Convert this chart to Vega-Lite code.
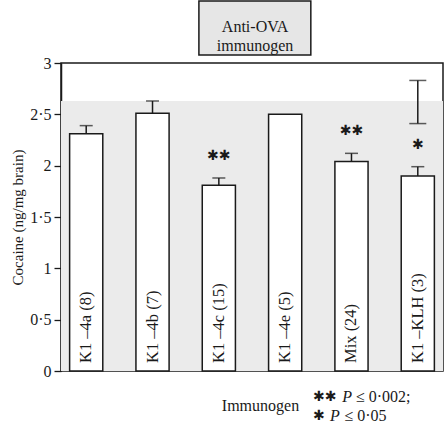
{
  "$schema": "https://vega.github.io/schema/vega-lite/v6.json",
  "width": 382,
  "height": 308,
  "autosize": {"type": "none"},
  "padding": {"left": 61, "top": 63, "right": 2, "bottom": 55},
  "background": "white",
  "config": {
    "view": {"stroke": "#1a1a1a", "strokeWidth": 1.5},
    "font": "Liberation Serif"
  },
  "datasets": {
    "bars": [
      {"group": "K1 –4a (8)", "mean": 2.31, "upper": 2.39, "sig": ""},
      {"group": "K1 –4b (7)", "mean": 2.51, "upper": 2.63, "sig": ""},
      {"group": "K1 –4c (15)", "mean": 1.81, "upper": 1.88, "sig": "✱✱"},
      {"group": "K1 –4e (5)", "mean": 2.5, "upper": null, "sig": ""},
      {"group": "Mix (24)", "mean": 2.04, "upper": 2.12, "sig": "✱✱"},
      {"group": "K1 –KLH (3)", "mean": 1.9, "upper": 1.99, "sig": "✱"}
    ],
    "control": [{"group": "K1 –KLH (3)", "low": 2.41, "high": 2.83}],
    "band": [{"low": 0, "high": 2.63}]
  },
  "layer": [
    {
      "layer": [
        {
          "data": {"name": "band"},
          "mark": {"type": "rect", "color": "#ebebeb"},
          "encoding": {
            "y": {
              "field": "low",
              "type": "quantitative",
              "scale": {"domain": [0, 3], "nice": false},
              "title": "Cocaine (ng/mg brain)",
              "axis": {
                "values": [0, 0.5, 1, 1.5, 2, 2.5, 3],
                "labelExpr": "replace(replace(datum.label, '.0', ''), '.', '·')",
                "tickSize": 7,
                "labelFontSize": 16,
                "labelFont": "Liberation Serif",
                "labelColor": "#1a1a1a",
                "labelPadding": 3,
                "tickColor": "#1a1a1a",
                "tickWidth": 1.3,
                "domainColor": "#1a1a1a",
                "domainWidth": 1.5,
                "grid": false,
                "titleFontSize": 15,
                "titleFontWeight": "normal",
                "titleFont": "Liberation Serif",
                "titleColor": "#1a1a1a",
                "titlePadding": 4
              }
            },
            "y2": {"field": "high"}
          }
        },
        {
          "data": {"name": "bars"},
          "mark": {"type": "bar", "fill": "white", "stroke": "#1a1a1a", "strokeWidth": 1.5},
          "encoding": {
            "x": {
              "field": "group",
              "type": "nominal",
              "sort": null,
              "scale": {
                "domain": ["K1 –4a (8)", "K1 –4b (7)", "K1 –4c (15)", "K1 –4e (5)", "Mix (24)", "K1 –KLH (3)"],
                "paddingInner": 0.5,
                "paddingOuter": 0.13
              },
              "axis": {
                "labels": false,
                "ticks": false,
                "domain": false,
                "title": "Immunogen",
                "titleFont": "Liberation Serif",
                "titleFontSize": 16,
                "titleFontWeight": "normal",
                "titleColor": "#1a1a1a",
                "titleX": 199,
                "titleY": 34,
                "titleAlign": "center",
                "titleBaseline": "middle"
              }
            },
            "y": {"field": "mean", "type": "quantitative"}
          }
        },
        {
          "data": {"name": "bars"},
          "transform": [{"filter": "isValid(datum.upper)"}],
          "mark": {"type": "rule", "color": "#1a1a1a", "strokeWidth": 1.5},
          "encoding": {
            "x": {"field": "group", "type": "nominal"},
            "y": {"field": "mean", "type": "quantitative"},
            "y2": {"field": "upper"}
          }
        },
        {
          "data": {"name": "bars"},
          "transform": [{"filter": "isValid(datum.upper)"}],
          "mark": {"type": "tick", "color": "#1a1a1a", "size": 13, "thickness": 1.5},
          "encoding": {
            "x": {"field": "group", "type": "nominal"},
            "y": {"field": "upper", "type": "quantitative"}
          }
        },
        {
          "data": {"name": "bars"},
          "transform": [{"filter": "isValid(datum.upper)"}],
          "mark": {"type": "text", "font": "DejaVu Sans", "fontSize": 14, "color": "#1a1a1a", "baseline": "middle", "dy": -22},
          "encoding": {
            "x": {"field": "group", "type": "nominal"},
            "y": {"field": "upper", "type": "quantitative"},
            "text": {"field": "sig"}
          }
        },
        {
          "data": {"name": "bars"},
          "mark": {"type": "text", "font": "Liberation Serif", "fontSize": 16.5, "color": "#1a1a1a", "angle": 270, "align": "left", "baseline": "middle", "dx": 8},
          "encoding": {
            "x": {"field": "group", "type": "nominal"},
            "y": {"datum": 0, "type": "quantitative"},
            "text": {"field": "group"}
          }
        },
        {
          "data": {"name": "control"},
          "mark": {"type": "rule", "color": "#1a1a1a", "strokeWidth": 1.5},
          "encoding": {
            "x": {"field": "group", "type": "nominal"},
            "y": {"field": "low", "type": "quantitative"},
            "y2": {"field": "high"}
          }
        },
        {
          "data": {"name": "control"},
          "mark": {"type": "tick", "color": "#1a1a1a", "size": 17, "thickness": 1.5},
          "encoding": {
            "x": {"field": "group", "type": "nominal"},
            "y": {"field": "low", "type": "quantitative"}
          }
        },
        {
          "data": {"name": "control"},
          "mark": {"type": "tick", "color": "#1a1a1a", "size": 17, "thickness": 1.5},
          "encoding": {
            "x": {"field": "group", "type": "nominal"},
            "y": {"field": "high", "type": "quantitative"}
          }
        }
      ]
    },
    {
      "data": {"values": [{}]},
      "layer": [
        {
          "mark": {"type": "rect", "fill": "#e6e6e6", "stroke": "#1a1a1a", "strokeWidth": 1.5},
          "encoding": {
            "x": {"datum": 0.361, "type": "quantitative", "scale": {"domain": [0, 1], "nice": false, "zero": false}, "axis": null},
            "x2": {"datum": 0.654},
            "y": {"datum": 3.604, "type": "quantitative", "scale": {"domain": [0, 3], "nice": false}, "axis": null},
            "y2": {"datum": 3.078}
          }
        },
        {
          "mark": {"type": "text", "text": ["Anti-OVA", "immunogen"], "font": "Liberation Serif", "fontSize": 16, "lineHeight": 19, "color": "#1a1a1a", "align": "center", "baseline": "middle"},
          "encoding": {
            "x": {"datum": 0.508, "type": "quantitative", "axis": null},
            "y": {"datum": 3.346, "type": "quantitative", "axis": null}
          }
        },
        {
          "mark": {"type": "text", "text": "✱✱", "font": "DejaVu Sans", "fontSize": 14, "color": "#1a1a1a", "align": "left", "baseline": "middle"},
          "encoding": {
            "x": {"datum": 0.66, "type": "quantitative", "axis": null},
            "y": {"datum": -0.253, "type": "quantitative", "axis": null}
          }
        },
        {
          "mark": {"type": "text", "text": "✱", "font": "DejaVu Sans", "fontSize": 14, "color": "#1a1a1a", "align": "left", "baseline": "middle"},
          "encoding": {
            "x": {"datum": 0.66, "type": "quantitative", "axis": null},
            "y": {"datum": -0.438, "type": "quantitative", "axis": null}
          }
        },
        {
          "mark": {"type": "text", "text": "P", "font": "Liberation Serif", "fontStyle": "italic", "fontSize": 16, "color": "#1a1a1a", "align": "left", "baseline": "middle"},
          "encoding": {
            "x": {"datum": 0.736, "type": "quantitative", "axis": null},
            "y": {"datum": -0.253, "type": "quantitative", "axis": null}
          }
        },
        {
          "mark": {"type": "text", "text": "P", "font": "Liberation Serif", "fontStyle": "italic", "fontSize": 16, "color": "#1a1a1a", "align": "left", "baseline": "middle"},
          "encoding": {
            "x": {"datum": 0.704, "type": "quantitative", "axis": null},
            "y": {"datum": -0.438, "type": "quantitative", "axis": null}
          }
        },
        {
          "mark": {"type": "text", "text": "≤ 0·002;", "font": "Liberation Serif", "fontSize": 16, "color": "#1a1a1a", "align": "left", "baseline": "middle"},
          "encoding": {
            "x": {"datum": 0.772, "type": "quantitative", "axis": null},
            "y": {"datum": -0.253, "type": "quantitative", "axis": null}
          }
        },
        {
          "mark": {"type": "text", "text": "≤ 0·05", "font": "Liberation Serif", "fontSize": 16, "color": "#1a1a1a", "align": "left", "baseline": "middle"},
          "encoding": {
            "x": {"datum": 0.742, "type": "quantitative", "axis": null},
            "y": {"datum": -0.438, "type": "quantitative", "axis": null}
          }
        }
      ]
    }
  ],
  "resolve": {"scale": {"x": "independent", "y": "independent"}}
}
